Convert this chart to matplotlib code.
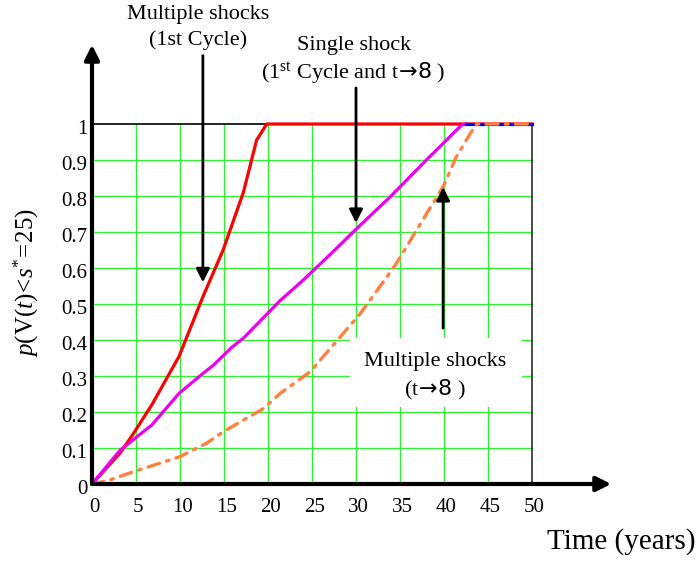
import matplotlib
matplotlib.use("Agg")
import matplotlib.pyplot as plt
from matplotlib.patches import FancyArrowPatch, Rectangle

plt.rcParams['font.family'] = ['Liberation Serif', 'DejaVu Serif']
plt.rcParams['mathtext.fontset'] = 'custom'
plt.rcParams['mathtext.rm'] = 'Liberation Serif'
plt.rcParams['mathtext.it'] = 'Liberation Serif:italic'
plt.rcParams['mathtext.sf'] = 'DejaVu Sans'

# Multiple shocks, first cycle
t_multi_1st = [0, 3.2, 4.7, 6.8, 9.9, 10.8, 12.6, 14.9, 17.2, 18.7, 19.85, 50]
p_multi_1st = [0, 0.086, 0.14, 0.22, 0.355, 0.41, 0.52, 0.65, 0.81, 0.955, 1.0, 1.0]

# Single shock (first cycle and t -> infinity)
t_single = [0, 3.2, 6.8, 9.9, 12.6, 13.8, 15.9, 17.2, 21.4, 23.8, 27.0, 30.1, 33.9, 38.0, 42.0, 42.5]
p_single = [0, 0.094, 0.164, 0.252, 0.307, 0.33, 0.38, 0.405, 0.51, 0.562, 0.636, 0.71, 0.798, 0.9, 0.997, 1.0]

# Single shock plateau
t_single_flat = [42.5, 50]
p_single_flat = [1.0, 1.0]

# Multiple shocks, t -> infinity
t_multi_inf = [0, 2.0, 4.7, 10.0, 13.0, 14.9, 19.5, 21.4, 24.8, 28.4, 30.5, 32.7, 34.6, 36.9,
               39.9, 41.4, 43.0, 43.7, 50]
p_multi_inf = [0, 0.011, 0.034, 0.076, 0.113, 0.145, 0.21, 0.252, 0.312, 0.414, 0.474, 0.548,
               0.613, 0.706, 0.826, 0.909, 0.974, 1.0, 1.0]

x_ticks = [0, 5, 10, 15, 20, 25, 30, 35, 40, 45, 50]
y_ticks = [0, 0.1, 0.2, 0.3, 0.4, 0.5, 0.6, 0.7, 0.8, 0.9, 1]
y_tick_labels = ['0', '0.1', '0.2', '0.3', '0.4', '0.5', '0.6', '0.7', '0.8', '0.9', '1']

fig = plt.figure(figsize=(6.99, 5.65), dpi=100)
W, H = 699, 565
x0, y0 = 92, 484          # pixel position of the origin
xmax, ymax = 59.0, 1.22
sx, sy = 8.8, 360.0       # pixels per unit
ax = fig.add_axes([x0 / W, (H - y0) / H, xmax * sx / W, ymax * sy / H])
ax.set_xlim(0, xmax)
ax.set_ylim(0, ymax)
for s in ax.spines.values():
    s.set_visible(False)
ax.set_xticks([])
ax.set_yticks([])

# green grid inside the unit box
grid_kw = dict(color='#33ee33', lw=1.0, zorder=1)
for xv in x_ticks[1:-1]:
    ax.plot([xv, xv], [0, 1], **grid_kw)
for yv in y_ticks[1:-1]:
    ax.plot([0, 50], [yv, yv], **grid_kw)

# thin frame on top and right
ax.plot([0, 50], [1, 1], color='black', lw=1.2, zorder=1.5)
ax.plot([50, 50], [0, 1], color='#223322', lw=1.2, zorder=1.5)

# curves
ax.plot(t_multi_1st, p_multi_1st, color='#ff0000', lw=2.3, zorder=3)
ax.plot(t_single, p_single, color='#ee00ee', lw=2.3, zorder=4)
ax.plot(t_single_flat, p_single_flat, color='#0000ff', lw=2.3, zorder=4)
ax.plot(t_multi_inf, p_multi_inf, color='#ff8040', lw=2.4, zorder=5,
        linestyle=(0, (3.6, 2.2, 0.8, 2.2)), dash_capstyle='round')

# axes with arrow heads
for start, end in [((0, 0), (0, ymax)), ((0, 0), (xmax, 0))]:
    ax.add_patch(FancyArrowPatch(start, end, arrowstyle='-|>', mutation_scale=22,
                                 lw=3.0, color='black', shrinkA=0, shrinkB=0,
                                 zorder=6, clip_on=False))

# tick labels
for xv in x_ticks:
    ax.text(xv + 0.25, -0.064, str(xv), ha='center', va='center', fontsize=15)
for yv, lab in zip(y_ticks, y_tick_labels):
    ax.text(-0.5, yv - 0.014, lab, ha='right', va='center', fontsize=15)

ax.text(60.1, -0.161, 'Time (years)', ha='center', va='center', fontsize=21, clip_on=False)
ax.text(-7.4, 0.56, r'$p(\mathrm{V}(t)\!<\!s^{*}\!=\!25)$', rotation=90, ha='center',
        va='center', fontsize=18)

# annotations
arrow_kw = dict(arrowstyle='-|>', mutation_scale=20, lw=2.0, color='black',
                shrinkA=0, shrinkB=0, zorder=7, clip_on=False)
ax.add_patch(FancyArrowPatch((12.6, 1.19), (12.6, 0.56), **arrow_kw))
ax.add_patch(FancyArrowPatch((30.0, 1.10), (30.0, 0.725), **arrow_kw))
ax.add_patch(FancyArrowPatch((39.9, 0.433), (39.9, 0.825), **arrow_kw))

ax.add_patch(Rectangle((29.3, 0.214), 19.6, 0.192, facecolor='white',
                       edgecolor='none', zorder=5.5))

arrow_txt = r'$\mathsf{\!{\rightarrow}\!8}$'
label_kw = dict(ha='center', va='center', fontsize=16, clip_on=False, zorder=8)
ax.text(12.1, 1.305, 'Multiple shocks', **label_kw)
ax.text(12.0, 1.233, '(1st Cycle)', **label_kw)
ax.text(29.8, 1.217, 'Single shock', **label_kw)
ax.text(29.7, 1.142, '(1$^{\\rm st}$ Cycle and t' + arrow_txt + ' )', **label_kw)
ax.text(39.0, 0.339, 'Multiple shocks', **label_kw)
ax.text(39.0, 0.261, '(t' + arrow_txt + ' )', **label_kw)

fig.savefig('out.png', dpi=100)
